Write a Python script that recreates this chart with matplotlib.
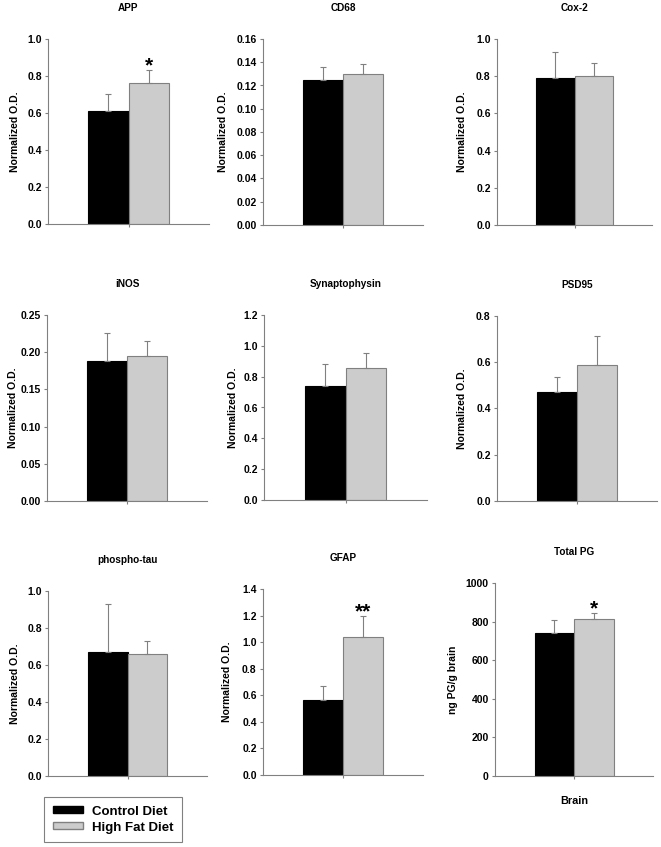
import numpy as np
import matplotlib
matplotlib.use("Agg")
from matplotlib import pyplot as plt
from matplotlib.patches import Patch
from matplotlib.ticker import FormatStrFormatter, MultipleLocator

plt.rcParams['font.family'] = ['Liberation Sans', 'DejaVu Sans']
plt.rcParams['font.weight'] = 'bold'

# data
panels = ['APP', 'CD68', 'Cox-2', 'iNOS', 'Synaptophysin', 'PSD95',
          'phospho-tau', 'GFAP', 'Total PG']
ylabels = ['Normalized O.D.'] * 8 + ['ng PG/g brain']
control_mean = [0.61, 0.1247, 0.789, 0.1886, 0.741, 0.470, 0.672, 0.562, 740]
control_err = [0.095, 0.011, 0.143, 0.0368, 0.143, 0.065, 0.256, 0.110, 66]
hfd_mean = [0.762, 0.1296, 0.803, 0.1945, 0.858, 0.587, 0.658, 1.036, 814]
hfd_err = [0.07, 0.0086, 0.070, 0.0202, 0.093, 0.128, 0.070, 0.158, 30]
stars = ['*', '', '', '', '', '', '', '**', '*']
ymax = [1.0, 0.16, 1.0, 0.25, 1.2, 0.8, 1.0, 1.4, 1000]
ystep = [0.2, 0.02, 0.2, 0.05, 0.2, 0.2, 0.2, 0.2, 200]
yfmt = ['%.1f', '%.2f', '%.1f', '%.2f', '%.1f', '%.1f', '%.1f', '%.1f', '%d']
groups = ['Control Diet', 'High Fat Diet']

# axes boxes in pixels: left, right, top, bottom
boxes = [(48, 209, 39, 224), (263, 423, 39, 225), (497, 652, 39, 225),
         (47, 207, 315, 501), (264, 427, 315, 500), (497, 657, 316, 501),
         (48, 207, 591, 776), (263, 423, 589, 775), (495, 653, 583, 776)]
# distance from y axis to the centre of the y label, pixels
label_off = [33, 40, 35, 34, 31, 35, 33, 36, 42]

W, H = 661, 847
fig = plt.figure(figsize=(W / 100, H / 100), dpi=100)

black = '#000000'
grey = '#cccccc'
edge = '#808080'

for i in range(9):
    l, r, t, b = boxes[i]
    ax = fig.add_axes([l / W, 1 - b / H, (r - l) / W, (b - t) / H])
    ax.bar(0, control_mean[i], width=1, color=black, edgecolor=black, lw=0.8)
    ax.bar(1, hfd_mean[i], width=1, color=grey, edgecolor=edge, lw=0.8)
    ax.errorbar([0, 1], [control_mean[i], hfd_mean[i]],
                yerr=[[0, 0], [control_err[i], hfd_err[i]]],
                fmt='none', ecolor=edge, elinewidth=0.8, capsize=2.5, capthick=0.8)
    if stars[i]:
        ax.annotate(stars[i], (1, hfd_mean[i] + hfd_err[i]), xytext=(0, -1),
                    textcoords='offset points', ha='center', va='baseline',
                    fontsize=15, fontweight='bold')
    ax.set_xlim(-1.5, 2.5)
    ax.set_ylim(0, ymax[i])
    ax.yaxis.set_major_locator(MultipleLocator(ystep[i]))
    ax.yaxis.set_major_formatter(FormatStrFormatter(yfmt[i]))
    ax.set_xticks([0.5])
    ax.set_xticklabels([''])
    for s in ['top', 'right']:
        ax.spines[s].set_visible(False)
    for s in ['left', 'bottom']:
        ax.spines[s].set_color(edge)
        ax.spines[s].set_linewidth(0.8)
    ax.tick_params(axis='both', direction='out', length=2.5, width=0.8,
                   color=edge, labelsize=7.5, pad=2)
    for lab in ax.get_yticklabels():
        lab.set_fontweight('bold')
    ax.set_ylabel(ylabels[i], fontsize=7.5, fontweight='bold')
    ax.yaxis.set_label_coords(-(label_off[i] - 5) / (r - l), 0.5)
    ax.set_title(panels[i], fontsize=7.2, fontweight='bold', pad=20)

ax.set_xlabel('Brain', fontsize=7.8, fontweight='bold', labelpad=10)

handles = [Patch(facecolor=black, edgecolor=black, label=groups[0]),
           Patch(facecolor=grey, edgecolor=edge, label=groups[1])]
leg = fig.legend(handles=handles, loc='upper left',
                 bbox_to_anchor=(44 / W, 1 - 797 / H),
                 prop={'family': 'Liberation Sans', 'weight': 'bold', 'size': 9.5},
                 frameon=True, fancybox=False, framealpha=1, edgecolor=edge,
                 handlelength=2.3, handleheight=0.45, handletextpad=0.7,
                 borderpad=0.65, labelspacing=0.3, borderaxespad=0)
leg.get_frame().set_linewidth(0.8)

fig.savefig('out.png', dpi=100)
